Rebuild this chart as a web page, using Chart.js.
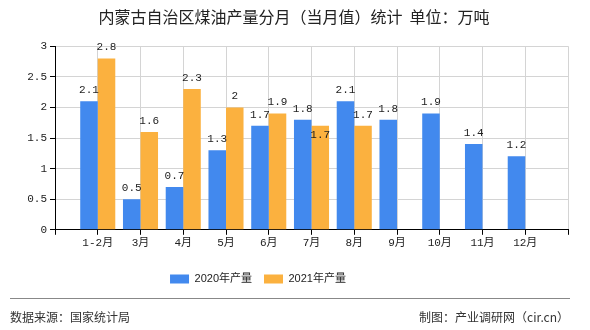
<!DOCTYPE html>
<html>
<head>
<meta charset="utf-8">
<script src="https://cdn.jsdelivr.net/npm/chart.js@4.4.1/dist/chart.umd.min.js"></script>
<style>
html,body{margin:0;padding:0;background:#fff;}
#wrap{width:590px;height:330px;position:relative;}
</style>
</head>
<body>
<div id="wrap"><canvas id="c" width="590" height="330"></canvas></div>
<script>
const titleText = '内蒙古自治区煤油产量分月（当月值）统计  单位：万吨';
const categories = ['1-2月','3月','4月','5月','6月','7月','8月','9月','10月','11月','12月'];
const seriesNames = ['2020年产量','2021年产量'];
const output2020 = [2.1,0.5,0.7,1.3,1.7,1.8,2.1,1.8,1.9,1.4,1.2];
const output2021 = [2.8,1.6,2.3,2.0,1.9,1.7,1.7,null,null,null,null];
const yMin = 0, yMax = 3, yStep = 0.5;
const sourceText = '数据来源：国家统计局';
const creditText = '制图：产业调研网（cir.cn）';

const colors = ['#4289ee','#fbb13f'];
const monoFont = "'Liberation Mono','Noto Sans CJK SC',monospace";
const cjkFont = "'Noto Sans CJK SC','Liberation Sans',sans-serif";

// pad with an empty slot on each side so the axis leaves one slot of space at both ends
const labels = ['', ...categories, ''];
const pad = arr => [null, ...arr, null];

const valueLabels = {
  id: 'valueLabels',
  afterDatasetsDraw(chart) {
    const ctx = chart.ctx;
    const metas = chart.getSortedVisibleDatasetMetas();
    const pos = metas.map(m => m.data.map((el, i) => {
      const v = chart.data.datasets[m.index].data[i];
      if (v === null || v === undefined) return null;
      return {x: el.x, y: el.y - 11, v, el};
    }));
    if (pos.length > 1) {
      for (let i = 0; i < pos[0].length; i++) {
        const a = pos[0][i], b = pos[1][i];
        if (a && b && Math.abs(a.y - b.y) < 10) {
          b.y = b.el.y + 9;
        }
      }
    }
    ctx.save();
    ctx.font = "11px " + monoFont;
    ctx.fillStyle = '#222';
    ctx.textAlign = 'center';
    ctx.textBaseline = 'middle';
    pos.forEach(list => list.forEach(p => {
      if (p) ctx.fillText(String(p.v), p.x, p.y);
    }));
    ctx.restore();
  }
};

const blocksPlacement = {
  id: 'blocksPlacement',
  afterLayout(chart) {
    const t = chart.titleBlock;
    if (t) { const w = t.right - t.left; const c = 294; t.left = c - w/2; t.right = c + w/2; t.top -= 1; t.bottom -= 1; }
    const l = chart.legend;
    if (l) {
      const w = l.right - l.left; const c = 258; l.left = c - w/2; l.right = c + w/2;
      const h = l.bottom - l.top; const mid = 278; l.top = mid - h/2; l.bottom = mid + h/2;
    }
  }
};

const footer = {
  id: 'footer',
  afterDraw(chart) {
    const ctx = chart.ctx;
    ctx.save();
    ctx.strokeStyle = '#888';
    ctx.lineWidth = 1;
    ctx.beginPath();
    ctx.moveTo(10, 298.5);
    ctx.lineTo(570, 298.5);
    ctx.stroke();
    ctx.font = "12px " + cjkFont;
    ctx.fillStyle = '#333';
    ctx.textBaseline = 'middle';
    ctx.textAlign = 'left';
    ctx.fillText(sourceText, 10, 317);
    ctx.textAlign = 'right';
    ctx.fillText(creditText, 569, 317);
    ctx.restore();
  }
};

new Chart(document.getElementById('c'), {
  type: 'bar',
  data: {
    labels,
    datasets: [
      {label: seriesNames[0], data: pad(output2020), backgroundColor: colors[0], borderWidth: 0},
      {label: seriesNames[1], data: pad(output2021), backgroundColor: colors[1], borderWidth: 0}
    ]
  },
  options: {
    responsive: false,
    animation: false,
    devicePixelRatio: 1,
    layout: {padding: {left: 10, right: 22, top: 0, bottom: 45}},
    categoryPercentage: 0.82,
    barPercentage: 1.0,
    plugins: {
      title: {
        display: true,
        text: titleText,
        color: '#222',
        font: {family: cjkFont, size: 16, weight: 'normal'},
        padding: {top: 8, bottom: 19}
      },
      legend: {
        display: true,
        position: 'bottom',
        labels: {
          boxWidth: 19, boxHeight: 9, padding: 12,
          color: '#222',
          font: {family: "'Liberation Sans','Noto Sans CJK SC',sans-serif", size: 11}
        }
      },
      tooltip: {enabled: false}
    },
    scales: {
      x: {
        offset: false,
        grid: {offset: false, color: '#d4d4d4', tickColor: '#000', tickLength: 5, drawOnChartArea: true},
        border: {color: '#000', width: 1},
        ticks: {autoSkip: false, maxRotation: 0, padding: 2, color: '#222', font: {family: monoFont, size: 11}}
      },
      y: {
        min: yMin, max: yMax,
        grid: {color: '#d4d4d4', tickColor: '#000', tickLength: 5},
        border: {color: '#000', width: 1},
        ticks: {stepSize: yStep, padding: 3, color: '#222', font: {family: monoFont, size: 11},
          callback: v => String(Number(v))},
        afterFit(s) { s.width = 45; }
      }
    }
  },
  plugins: [valueLabels, blocksPlacement, footer]
});
</script>
</body>
</html>
